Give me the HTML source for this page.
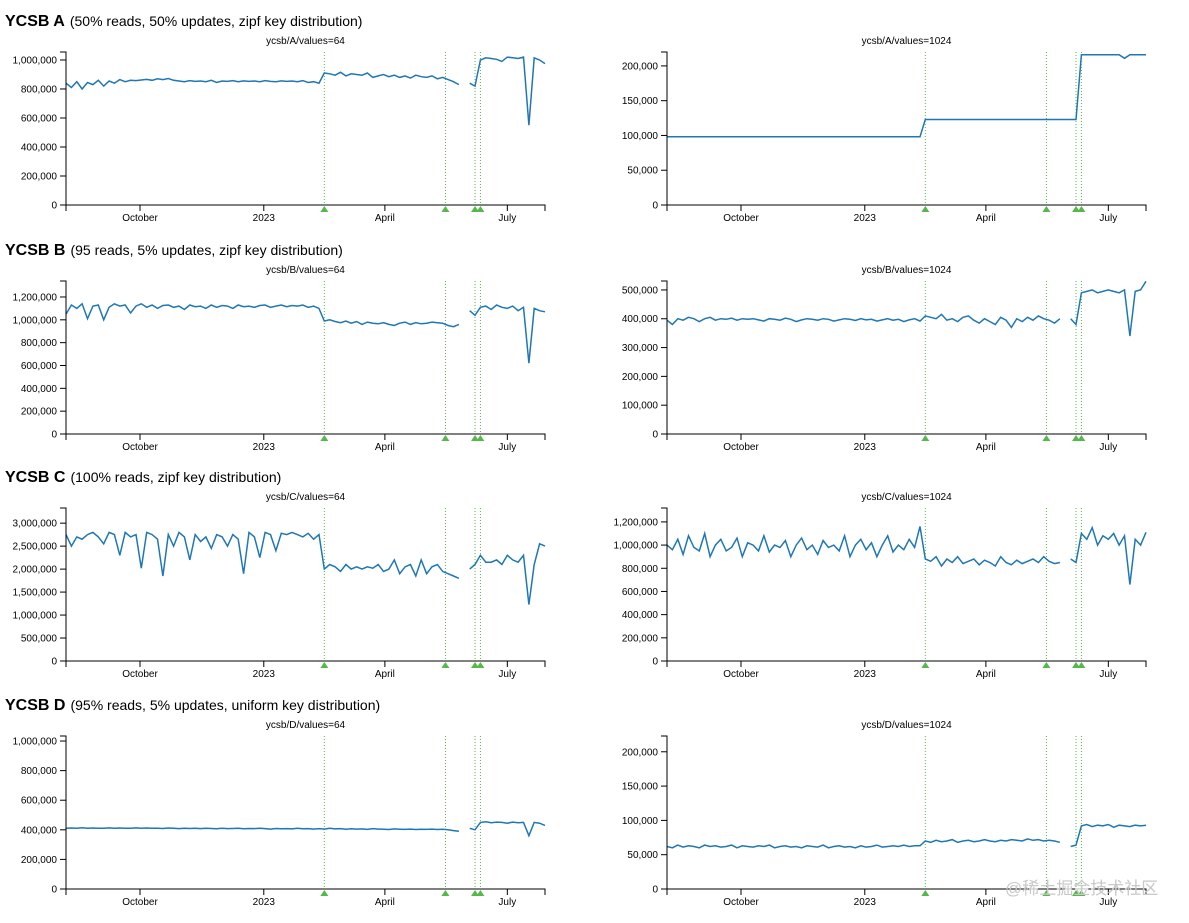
<!DOCTYPE html>
<html><head><meta charset="utf-8"><style>
body{margin:0;background:#fff;}
svg{display:block;font-family:"Liberation Sans","Noto Sans CJK SC",sans-serif;}
</style></head><body>
<svg id="root" width="1189" height="923" viewBox="0 0 1189 923"></svg>
<script>
// ---- data (values in thousands of ops/sec), one point every 4 days from 2022-08-07 ----
const startDate = '2022-08-07';
const endDate = '2023-07-29';
const stepDays = 4;
const rowKeys = ['A','B','C','D'];
const rowSubtitles = ['(50% reads, 50% updates, zipf key distribution)','(95 reads, 5% updates, zipf key distribution)','(100% reads, zipf key distribution)','(95% reads, 5% updates, uniform key distribution)'];
const eventDates = ['2023-02-15','2023-05-16','2023-06-07','2023-06-11'];
const xTickDates = ['2022-10-01','2023-01-01','2023-04-01','2023-07-01'];
const xTickLabels = ['October','2023','April','July'];

const values_A64 = [840,810,850,800,845,830,860,820,855,840,865,850,860,858,862,866,860,870,865,872,860,855,850,858,852,855,850,860,845,855,852,858,850,856,852,855,850,858,852,850,856,852,855,850,858,845,850,840,910,905,895,915,890,905,900,895,910,880,890,900,885,895,880,890,875,895,885,880,890,870,880,865,850,830,null,840,820,1000,1015,1010,1005,990,1020,1015,1010,1020,550,1015,1000,975];
const values_A1024 = [98,98,98,98,98,98,98,98,98,98,98,98,98,98,98,98,98,98,98,98,98,98,98,98,98,98,98,98,98,98,98,98,98,98,98,98,98,98,98,98,98,98,98,98,98,98,98,98,123,123,123,123,123,123,123,123,123,123,123,123,123,123,123,123,123,123,123,123,123,123,123,123,123,123,123,123,123,216,216,216,216,216,216,216,216,211,216,216,216,216];
const values_B64 = [1050,1130,1100,1140,1010,1120,1130,1000,1110,1140,1120,1130,1060,1120,1140,1110,1130,1100,1125,1130,1110,1120,1090,1130,1115,1120,1100,1130,1110,1125,1120,1100,1130,1115,1120,1110,1125,1130,1110,1120,1130,1115,1125,1120,1130,1110,1120,1100,990,1000,985,975,990,970,985,960,980,970,965,975,960,950,970,980,960,975,965,970,980,975,970,950,940,960,null,1080,1040,1110,1120,1090,1130,1110,1100,1120,1080,1110,620,1100,1080,1070];
const values_B1024 = [395,380,400,395,405,400,390,400,405,395,400,398,402,395,400,398,400,396,392,400,398,395,402,398,390,396,400,398,395,400,398,392,396,400,398,394,400,396,398,392,396,400,395,398,390,396,400,392,410,405,400,415,395,400,390,405,410,395,385,400,390,380,405,395,370,400,390,405,395,410,400,395,385,400,null,400,380,490,495,500,490,495,500,495,490,500,340,495,500,530];
const values_C64 = [2750,2500,2700,2650,2750,2800,2700,2550,2800,2750,2300,2800,2700,2750,2020,2800,2750,2650,1850,2750,2500,2800,2700,2200,2750,2600,2700,2450,2750,2700,2500,2750,2650,1900,2800,2700,2250,2800,2750,2400,2780,2750,2800,2750,2700,2780,2650,2750,2000,2100,2050,1950,2100,2000,2050,2000,2050,2020,2100,1950,2000,2200,1900,2050,2100,1850,2200,1900,2050,2100,1950,1900,1850,1800,null,2000,2100,2300,2150,2150,2200,2100,2300,2200,2150,2300,1230,2100,2550,2500];
const values_C1024 = [1000,960,1050,920,1080,980,950,1100,900,1000,1050,950,980,1060,900,1020,1000,950,1080,940,1000,980,1040,900,1000,1060,960,1000,920,1040,980,1000,950,1080,900,1000,1050,960,1020,900,1000,1080,940,1000,960,1050,980,1160,880,860,900,820,880,850,900,840,860,880,830,870,850,820,900,850,830,870,840,860,880,850,900,860,840,850,null,880,850,1100,1050,1150,1000,1080,1050,1100,1000,1080,660,1050,1000,1110];
const values_D64 = [410,412,410,414,410,412,411,410,413,410,412,410,411,413,410,412,410,411,409,412,410,408,410,409,411,408,410,409,407,410,408,409,410,407,409,408,410,408,405,409,407,408,406,410,407,408,405,408,405,410,406,408,404,407,405,406,403,408,405,404,402,406,404,403,405,402,404,403,405,402,404,400,395,390,null,410,400,450,455,448,452,450,445,452,448,450,360,450,445,430];
const values_D1024 = [62,60,64,61,63,62,60,64,62,63,61,62,64,60,63,62,61,63,62,64,60,62,63,61,62,60,63,62,61,64,60,62,63,61,62,60,63,61,62,64,61,62,63,62,64,62,63,63,70,68,71,69,70,72,68,70,71,69,70,72,70,69,71,70,72,71,70,73,71,72,70,71,70,68,null,62,64,92,94,91,93,92,94,90,93,92,91,93,92,93];

const domainMax = {A64:1055,A1024:220,B64:1340,B1024:531,C64:3330,C1024:1320,D64:1034,D1024:223};
const tickStep = {A64:200,A1024:50,B64:200,B1024:100,C64:500,C1024:200,D64:200,D1024:50};
const tickMax = {A64:1000,A1024:200,B64:1200,B1024:500,C64:3000,C1024:1200,D64:1000,D1024:200};
const seriesMap = {A64:values_A64,A1024:values_A1024,B64:values_B64,B1024:values_B1024,C64:values_C64,C1024:values_C1024,D64:values_D64,D1024:values_D1024};

// ---- drawing ----
const NS='http://www.w3.org/2000/svg';
const root=document.getElementById('root');
function mk(tag,attrs,parent){const e=document.createElementNS(NS,tag);for(const k in attrs)e.setAttribute(k,attrs[k]);(parent||root).appendChild(e);return e;}
const t0=Date.parse(startDate), t1=Date.parse(endDate);
const DAY=86400000;
const rowOffsets=[0,229,456,684];
const colX=[66,667], plotW=479;
function fmt(v){return (v*1000).toLocaleString('en-US');}

rowKeys.forEach((rk,ri)=>{
  const oy=rowOffsets[ri];
  const h=mk('text',{x:5,y:oy+26,'font-size':'15','fill':'#000'});
  
  
  const b=mk('tspan',{'font-weight':'bold','font-size':'16'},h); b.textContent='YCSB '+rk;
  const s=mk('tspan',{dx:'5','font-size':'14'},h); s.textContent=rowSubtitles[ri];

  ['64','1024'].forEach((vk,ci)=>{
    const key=rk+vk, data=seriesMap[key];
    const x0=colX[ci], top=oy+52, bot=oy+205;
    const g=mk('g',{});
    
    
    const xs=d=>x0+(Date.parse(d)-t0)/(t1-t0)*plotW;
    const xi=i=>x0+(i*stepDays*DAY)/(t1-t0)*plotW;
    const ys=v=>bot-v/domainMax[key]*(bot-top);
    const title=mk('text',{x:x0+plotW/2,y:oy+44,'font-size':'10','text-anchor':'middle'},g);
    title.textContent='ycsb/'+rk+'/values='+vk;
    
    
    eventDates.forEach(d=>{
      const x=xs(d);
      const l=mk('line',{x1:x,x2:x,y1:top,y2:bot,stroke:'#55b84a','stroke-width':'1','stroke-dasharray':'1,2'},g);
      
      
      const tr=mk('polygon',{points:`${x-4},${bot+7} ${x+4},${bot+7} ${x},${bot+1}`,fill:'#55b84a'},g);
      
      
    });
    let dstr='',pen=false;
    data.forEach((v,i)=>{ if(v===null){pen=false;return;} dstr+=(pen?'L':'M')+xi(i).toFixed(1)+','+ys(v).toFixed(1); pen=true;});
    const p=mk('path',{d:dstr,fill:'none',stroke:'#1f77b4','stroke-width':'1.5'},g);
    
    
    const ya=mk('g',{'font-size':'10'},g);
    
    
    mk('path',{d:`M${x0-6},${top}H${x0}V${bot}H${x0-6}`,fill:'none',stroke:'#000'},ya);
    for(let v=0;v<=tickMax[key];v+=tickStep[key]){
      const y=ys(v);
      mk('line',{x1:x0-6,x2:x0,y1:y,y2:y,stroke:'#000'},ya);
      const t=mk('text',{x:x0-9,y:y+3.5,'text-anchor':'end'},ya); t.textContent=fmt(v);
    }
    const xa=mk('g',{'font-size':'10'},g);
    
    
    mk('path',{d:`M${x0},${bot+6}V${bot}H${x0+plotW}V${bot+6}`,fill:'none',stroke:'#000'},xa);
    xTickDates.forEach((d,k)=>{
      const x=xs(d);
      mk('line',{x1:x,x2:x,y1:bot,y2:bot+6,stroke:'#000'},xa);
      const t=mk('text',{x:x,y:bot+16,'text-anchor':'middle'},xa); t.textContent=xTickLabels[k];
    });
  });
});
const wm=mk('text',{x:1005,y:894,'font-size':'17',fill:'#c8c8c8'});
wm.textContent='@稀土掘金技术社区';


</script>
</body></html>
